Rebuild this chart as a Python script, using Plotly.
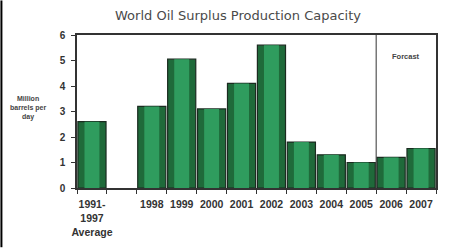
import plotly.graph_objects as go

categories = ["1991-<br>1997<br>Average", " ", "1998", "1999", "2000", "2001", "2002",
              "2003", "2004", "2005", "2006", "2007"]
values = [2.6, None, 3.2, 5.05, 3.1, 4.1, 5.6, 1.8, 1.3, 1.0, 1.2, 1.55]
title_text = "World Oil Surplus Production Capacity"
y_label = "Million<br>barrels per<br>day"
forecast_label = "Forcast"

L, R, T, B = 77, 12, 35, 60
W, H = 450, 250
pw = W - L - R

fig = go.Figure()
fig.add_trace(go.Bar(x=categories, y=values, width=0.94,
                     marker=dict(color="#1f6a3a", line=dict(color="#1b2b20", width=1.2)),
                     hoverinfo="skip"))
fig.add_trace(go.Bar(x=categories, y=values, width=0.5,
                     marker=dict(color="#2f9c5e", line=dict(width=0)),
                     hoverinfo="skip"))

fig.update_layout(
    width=W, height=H, barmode="overlay", showlegend=False,
    margin=dict(l=L, r=R, t=T, b=B),
    paper_bgcolor="white", plot_bgcolor="white",
    title=dict(text=title_text, x=238 / W, xanchor="center", y=1 - 15 / H, yanchor="middle",
               font=dict(family="DejaVu Sans", size=13, color="#4a4a4a")),
    xaxis=dict(type="category", categoryorder="array", categoryarray=categories,
               tickson="boundaries", ticks="outside", ticklen=4, tickcolor="#333",
               showline=True, linecolor="#333", linewidth=1.5, mirror=True,
               showgrid=False, range=[-0.5, 11.5], tickangle=0, ticklabelstandoff=6,
               tickfont=dict(family="Liberation Sans", size=10.5, color="#333", weight="bold")),
    yaxis=dict(range=[0, 6], dtick=1, ticks="outside", ticklen=4, tickcolor="#333",
               showline=True, linecolor="#333", linewidth=1.5, mirror=True,
               showgrid=False, zeroline=False, ticklabelstandoff=4,
               tickfont=dict(family="Liberation Sans", size=10, color="#333", weight="bold")),
    font=dict(family="Liberation Sans"),
)

# forecast divider between 2005 and 2006
fig.add_shape(type="line", xref="x", yref="paper", x0=9.5, x1=9.5, y0=0, y1=1,
              line=dict(color="#333", width=1))
fig.add_annotation(text=forecast_label, xref="x", yref="y", x=10.5, y=5.15,
                   showarrow=False, font=dict(family="Liberation Sans", size=7.5, color="#444", weight="bold"))
fig.add_annotation(text=y_label, xref="paper", yref="paper", x=-(L - 28) / pw, y=(190 - 109) / (H - T - B),
                   xanchor="center", yanchor="middle", showarrow=False,
                   font=dict(family="Liberation Sans", size=7, color="#444", weight="bold"))
# left image frame line
fig.add_shape(type="line", xref="paper", yref="paper", x0=-(L - 1) / pw, x1=-(L - 1) / pw,
              y0=-B / (H - T - B), y1=1 + T / (H - T - B), line=dict(color="black", width=2))

fig.write_html("out.html")
